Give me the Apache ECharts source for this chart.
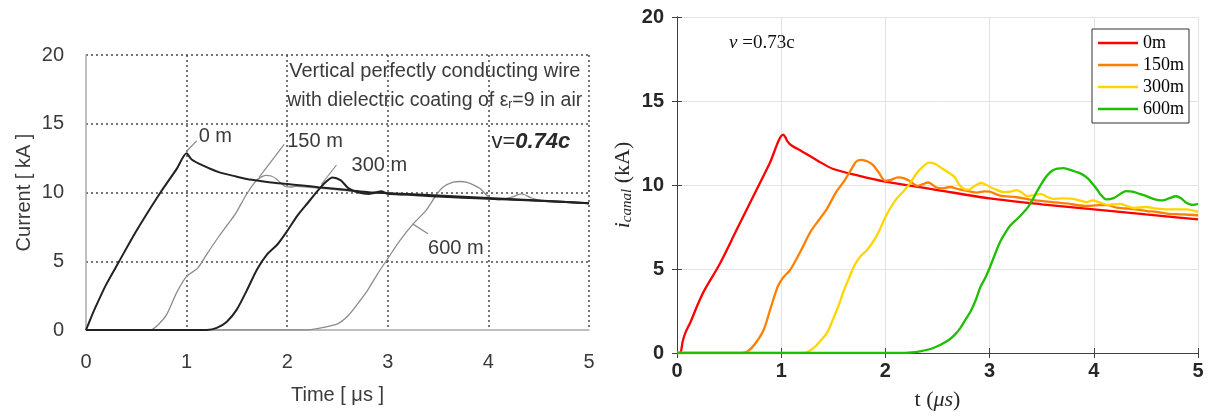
<!DOCTYPE html>
<html>
<head>
<meta charset="utf-8">
<script src="https://cdn.jsdelivr.net/npm/echarts@6/dist/echarts.min.js"></script>
<style>
html,body{margin:0;padding:0;background:#fff;}
#c{width:1209px;height:416px;}
</style>
</head>
<body>
<div id="c"></div>
<script>
// ---------- Tick values ----------
var xTicks = [0, 1, 2, 3, 4, 5];
var yTicks = [0, 5, 10, 15, 20];

// ---------- Left chart (measured, v=0.74c) : [time us, current kA] ----------
var left0m = [[0,0],[0.05,0.9],[0.1,1.75],[0.2,3.3],[0.33,5.0],[0.5,7.2],[0.74,10.0],[0.9,11.7],[1.0,12.85],[1.05,12.4],[1.16,11.97],[1.32,11.48],[1.49,11.17],[1.65,10.92],[1.82,10.75],[1.98,10.63],[2.15,10.51],[2.31,10.39],[2.48,10.27],[2.64,10.15],[2.81,10.02],[3.0,9.95],[3.5,9.78],[4.0,9.6],[4.5,9.42],[5.0,9.22]];
var left150m = [[0,0],[0.62,0],[0.66,0.05],[0.72,0.4],[0.8,1.1],[0.9,2.7],[1.0,3.9],[1.11,4.5],[1.2,5.5],[1.32,6.8],[1.4,7.6],[1.49,8.5],[1.59,9.8],[1.69,10.85],[1.75,11.15],[1.79,11.25],[1.84,11.2],[1.89,11.0],[1.94,10.65],[1.98,10.45],[2.04,10.4],[2.09,10.45],[2.2,10.4],[2.3,10.32],[2.5,10.2],[2.7,10.05],[2.9,9.95],[3.0,10.0],[3.1,9.85],[3.5,9.72],[4.0,9.55],[4.5,9.4],[5.0,9.22]];
var left300m = [[0,0],[1.2,0],[1.3,0.15],[1.4,0.6],[1.5,1.5],[1.6,2.9],[1.7,4.4],[1.8,5.5],[1.9,6.2],[2.0,7.2],[2.1,8.3],[2.2,9.2],[2.3,10.1],[2.38,10.75],[2.45,11.1],[2.53,10.9],[2.61,10.3],[2.71,10.0],[2.81,9.9],[2.94,10.1],[3.0,9.9],[3.2,9.85],[3.5,9.7],[4.0,9.55],[4.5,9.4],[5.0,9.22]];
var left600m = [[0,0],[2.18,0],[2.3,0.1],[2.5,0.45],[2.6,1.0],[2.7,1.9],[2.8,2.9],[2.9,4.1],[3.0,5.2],[3.12,6.5],[3.25,7.7],[3.38,8.7],[3.48,9.8],[3.55,10.4],[3.65,10.75],[3.72,10.8],[3.78,10.75],[3.85,10.55],[3.92,10.27],[4.0,9.7],[4.1,9.47],[4.23,9.66],[4.33,9.9],[4.43,9.6],[4.56,9.36],[4.7,9.3],[5.0,9.2]];
var leftLeaders = [
  [[1.0,13.0],[1.1,13.75]],
  [[1.72,11.1],[1.97,13.5]],
  [[2.34,10.6],[2.49,12.0]],
  [[3.25,7.7],[3.4,7.0]]
];
var leftLabels = ['0 m','150 m','300 m','600 m'];
var leftLabelPos = [[1.12,14.05],[2.0,13.7],[2.64,12.0],[3.4,5.9]];

// ---------- Right chart (simulated, v=0.73c) ----------
var rightNames = ['0m','150m','300m','600m'];
var right0m = [[0,0],[0.03,0],[0.055,0.7],[0.08,1.2],[0.13,1.85],[0.2,2.9],[0.26,3.7],[0.41,5.3],[0.57,7.3],[0.73,9.3],[0.89,11.3],[1.02,13.0],[1.04,12.85],[1.06,12.6],[1.1,12.35],[1.2,12.0],[1.35,11.45],[1.5,10.95],[1.75,10.55],[2.0,10.2],[2.25,9.95],[2.5,9.7],[3.0,9.2],[3.5,8.85],[4.0,8.55],[4.5,8.25],[5.0,7.96]];
var right150m = [[0,0],[0.62,0],[0.68,0.1],[0.75,0.55],[0.83,1.35],[0.9,2.7],[0.97,4.0],[1.02,4.5],[1.08,4.9],[1.12,5.3],[1.19,6.1],[1.28,7.2],[1.36,7.9],[1.44,8.6],[1.53,9.6],[1.6,10.2],[1.67,10.9],[1.72,11.4],[1.77,11.5],[1.83,11.4],[1.88,11.2],[1.93,10.8],[2.0,10.25],[2.05,10.3],[2.12,10.45],[2.18,10.4],[2.23,10.25],[2.31,9.95],[2.36,10.05],[2.41,10.15],[2.49,9.85],[2.55,9.8],[2.62,9.88],[2.7,9.75],[2.82,9.6],[2.88,9.55],[2.95,9.62],[3.0,9.6],[3.1,9.37],[3.26,9.27],[3.42,9.1],[3.58,9.0],[3.74,8.9],[3.93,8.75],[4.05,8.8],[4.13,8.8],[4.22,8.65],[4.32,8.6],[4.4,8.55],[4.51,8.45],[4.6,8.4],[4.7,8.3],[4.85,8.25],[5.0,8.2]];
var right300m = [[0,0],[1.2,0],[1.27,0.12],[1.33,0.4],[1.38,0.75],[1.44,1.2],[1.49,1.9],[1.55,2.8],[1.6,3.7],[1.66,4.6],[1.71,5.3],[1.76,5.75],[1.82,6.1],[1.89,6.7],[1.95,7.4],[2.0,8.1],[2.06,8.75],[2.11,9.2],[2.17,9.6],[2.23,10.05],[2.3,10.7],[2.36,11.1],[2.42,11.33],[2.48,11.25],[2.53,11.05],[2.59,10.8],[2.66,10.5],[2.71,10.0],[2.76,9.75],[2.8,9.72],[2.86,9.95],[2.92,10.12],[2.97,10.0],[3.04,9.78],[3.14,9.57],[3.2,9.6],[3.26,9.7],[3.31,9.55],[3.36,9.33],[3.43,9.4],[3.49,9.47],[3.55,9.3],[3.61,9.18],[3.7,9.2],[3.8,9.18],[3.88,9.05],[3.93,8.98],[3.99,9.08],[4.06,8.95],[4.13,8.82],[4.25,8.88],[4.32,8.75],[4.38,8.63],[4.5,8.69],[4.6,8.6],[4.7,8.55],[4.89,8.55],[5.0,8.4]];
var right600m = [[0,0],[2.14,0],[2.25,0.03],[2.33,0.1],[2.46,0.3],[2.59,0.7],[2.66,1.05],[2.72,1.5],[2.77,2.0],[2.82,2.5],[2.87,3.2],[2.91,3.9],[2.96,4.5],[3.0,5.06],[3.05,5.85],[3.1,6.6],[3.15,7.15],[3.2,7.6],[3.25,7.9],[3.3,8.2],[3.37,8.7],[3.41,9.1],[3.45,9.57],[3.5,10.1],[3.55,10.55],[3.6,10.85],[3.65,10.98],[3.71,11.0],[3.8,10.84],[3.86,10.72],[3.91,10.55],[3.95,10.35],[3.99,10.06],[4.03,9.75],[4.06,9.47],[4.12,9.14],[4.19,9.22],[4.25,9.45],[4.31,9.63],[4.37,9.6],[4.44,9.47],[4.5,9.35],[4.57,9.18],[4.66,9.08],[4.72,9.2],[4.79,9.33],[4.84,9.2],[4.88,8.98],[4.95,8.82],[5.0,8.88]];

var rightColors = ['#ff0000','#ff8000','#ffd500','#1ebe00'];

var chart = echarts.init(document.getElementById('c'), null, {renderer:'canvas'});

var SANS = 'Liberation Sans, Arial, sans-serif';
var SERIF = 'Liberation Serif, Times New Roman, serif';
var dotted = {color:'#4a4a4a', width:1.5, type:[2,3]};
var leftInk = '#3a3a3a';

function leftAxisCommon(){
  return {
    type:'value', min:0, gridIndex:0,
    axisLine:{show:true, lineStyle:{color:'#aaaaaa', width:1.5}},
    axisTick:{show:false},
    splitLine:{show:true, showMinLine:false, lineStyle:dotted},
    axisLabel:{fontFamily:SANS, fontSize:20, color:leftInk},
    nameTextStyle:{fontFamily:SANS, fontSize:20, color:leftInk}
  };
}
var lx = leftAxisCommon();
Object.assign(lx, {max:5, interval:1, name:'Time [ μs ]', nameLocation:'middle', nameGap:55});
lx.axisLabel.margin = 22;
var ly = leftAxisCommon();
Object.assign(ly, {max:20, interval:5, name:'Current [ kA ]', nameLocation:'middle', nameGap:52});
ly.axisLabel.margin = 22;

var boxLine = {show:true, lineStyle:{color:'#404040', width:1}};
var rx = {
  type:'value', gridIndex:1, min:0, max:5, interval:1,
  axisLine:boxLine, axisTick:{show:true, inside:true, length:5, lineStyle:{color:'#404040'}},
  splitLine:{show:true, lineStyle:{color:'#e3e3e3', width:1}},
  axisLabel:{fontFamily:SANS, fontWeight:'bold', fontSize:20, color:'#262626', margin:8},
  name:'t ({it|μs})', nameLocation:'middle', nameGap:36,
  nameTextStyle:{fontFamily:SERIF, fontSize:22, color:'#262626', rich:{it:{fontFamily:SERIF, fontSize:22, fontStyle:'italic', color:'#262626'}}}
};
var ry = {
  type:'value', gridIndex:1, min:0, max:20, interval:5,
  axisLine:boxLine, axisTick:{show:true, inside:true, length:5, lineStyle:{color:'#404040'}},
  splitLine:{show:true, lineStyle:{color:'#e3e3e3', width:1}},
  axisLabel:{fontFamily:SANS, fontWeight:'bold', fontSize:20, color:'#262626', margin:13},
  name:'{it|i}{sub|canal} (kA)', nameLocation:'middle', nameGap:42,
  nameTextStyle:{fontFamily:SERIF, fontSize:22, color:'#262626',
    rich:{it:{fontFamily:SERIF, fontSize:22, fontStyle:'italic', color:'#262626'},
          sub:{fontFamily:SERIF, fontSize:15, fontStyle:'italic', color:'#262626', padding:[9,0,0,0]}}}
};
var rxTop = {type:'value', gridIndex:1, min:0, max:5, interval:1, position:'top',
  axisLine:boxLine, axisTick:{show:true, inside:true, length:5, lineStyle:{color:'#404040'}},
  axisLabel:{show:false}, splitLine:{show:false}};
var ryRight = {type:'value', gridIndex:1, min:0, max:20, interval:5, position:'right',
  axisLine:boxLine, axisTick:{show:true, inside:true, length:5, lineStyle:{color:'#404040'}},
  axisLabel:{show:false}, splitLine:{show:false}};

var series = [];
function leftSeries(name, data, color, width){
  series.push({name:name, type:'line', xAxisIndex:0, yAxisIndex:0, data:data, symbol:'none',
    smooth:0.25, lineStyle:{color:color, width:width}, silent:true, z:3});
}
leftSeries('L150', left150m, '#8c8c8c', 1.3);
leftSeries('L600', left600m, '#8c8c8c', 1.3);
leftSeries('L0', left0m, '#222222', 2);
leftSeries('L300', left300m, '#222222', 2);
leftLeaders.forEach(function(seg, i){
  series.push({name:'leader'+i, type:'line', xAxisIndex:0, yAxisIndex:0, data:seg, symbol:'none',
    lineStyle:{color:'#8a8a8a', width:1.2}, silent:true, z:2});
});
var rightData = [right0m, right150m, right300m, right600m];
rightData.forEach(function(d, i){
  series.push({name:rightNames[i], type:'line', xAxisIndex:1, yAxisIndex:1, data:d, symbol:'none',
    smooth:0.3, lineStyle:{color:rightColors[i], width:2.3}, itemStyle:{color:rightColors[i]}, silent:true, z:3+i});
});

chart.setOption({
  animation:false,
  backgroundColor:'#ffffff',
  grid:[
    {left:86, top:55, width:503, height:275, containLabel:false},
    {left:677, top:17, width:521, height:338, containLabel:false}
  ],
  xAxis:[lx, rx, rxTop],
  yAxis:[ly, ry, ryRight],
  legend:{
    data:rightNames, orient:'vertical', left:1092, top:29,
    padding:[5,5,5,6], itemWidth:40, itemHeight:14, itemGap:4, itemTextGap:2,
    textStyle:{fontFamily:SERIF, fontSize:18, color:'#000', lineHeight:18},
    borderColor:'#333333', borderWidth:1, backgroundColor:'#ffffff',
    selectedMode:false, icon:'path://M0,6 L40,6 L40,8.5 L0,8.5 Z'
  },
  series:series
});

// ---------- Annotations placed through the axes ----------
function P(idx, pt){ return chart.convertToPixel({xAxisIndex:idx, yAxisIndex:idx}, pt); }
var g = [];
var lt1 = P(0,[2.02,18.8]);
g.push({type:'text', x:lt1[0], y:lt1[1], style:{text:'Vertical perfectly conducting wire', fontFamily:SANS, fontSize:20, fill:leftInk, verticalAlign:'middle'}});
var lt2 = P(0,[2.0,16.7]);
g.push({type:'text', x:lt2[0], y:lt2[1], style:{text:'with dielectric coating of ε{s|r}=9 in air', fontFamily:SANS, fontSize:19.5, fill:leftInk, verticalAlign:'middle',
  rich:{s:{fontFamily:SANS, fontSize:12, fill:leftInk, padding:[8,0,0,0]}}}});
var lt3 = P(0,[4.03,13.7]);
g.push({type:'text', x:lt3[0], y:lt3[1], style:{text:'v={b|0.74c}', fontFamily:SANS, fontSize:22, fill:'#2a2a2a', verticalAlign:'middle',
  rich:{b:{fontFamily:SANS, fontSize:22, fontStyle:'italic', fontWeight:'bold', fill:'#2a2a2a'}}}});
leftLabels.forEach(function(t, i){
  var p = P(0, leftLabelPos[i]);
  g.push({type:'text', x:p[0], y:p[1], style:{text:t, fontFamily:SANS, fontSize:20, fill:leftInk, verticalAlign:'middle'}});
});
var rt = P(1,[0.5,18.45]);
g.push({type:'text', x:rt[0], y:rt[1], style:{text:'{i|v} =0.73c', fontFamily:SERIF, fontSize:19, fill:'#111', verticalAlign:'middle',
  rich:{i:{fontFamily:SERIF, fontSize:19, fontStyle:'italic', fill:'#111'}}}});
chart.setOption({graphic:g});
</script>
</body>
</html>
